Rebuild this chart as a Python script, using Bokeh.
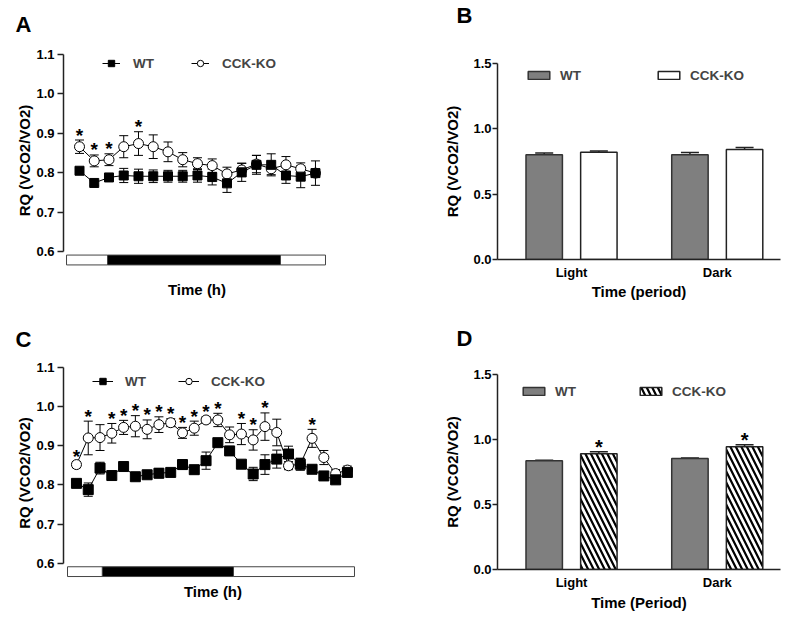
import numpy as np
from bokeh.plotting import figure
from bokeh.models import (Range1d, FixedTicker, PrintfTickFormatter, Whisker, TeeHead,
                          ColumnDataSource, Legend, LegendItem, Title)
from bokeh.layouts import row, column
from bokeh.embed import file_html
from bokeh.resources import INLINE
from bokeh.core.properties import value

FONT = "Liberation Sans"

# ---------------- data ----------------
# Panel A (hourly RQ, 17 time points)
hours_a = list(range(17))
wt_a = [0.805, 0.774, 0.788, 0.793, 0.791, 0.791, 0.791, 0.791, 0.793, 0.789,
        0.773, 0.801, 0.820, 0.820, 0.793, 0.790, 0.799]
wt_a_err = [0.006, 0.006, 0.008, 0.018, 0.018, 0.016, 0.015, 0.015, 0.017, 0.020,
            0.023, 0.023, 0.024, 0.028, 0.020, 0.028, 0.031]
ko_a = [0.866, 0.830, 0.833, 0.866, 0.874, 0.866, 0.853, 0.833, 0.823, 0.818,
        0.797, 0.807, 0.822, 0.810, 0.820, 0.810, 0.799]
ko_a_err = [0.017, 0.015, 0.015, 0.028, 0.030, 0.030, 0.025, 0.018, 0.015, 0.017,
            0.017, 0.017, 0.022, 0.015, 0.021, 0.015, 0.010]
stars_a = [0, 1, 2, 4]
# light / dark phases (in time-point units)
phase_a = [-0.88, 1.9, 13.63, 16.68]

# Panel C (hourly RQ, 24 time points)
hours_c = list(range(24))
wt_c = [0.804, 0.788, 0.843, 0.824, 0.847, 0.821, 0.826, 0.830, 0.832, 0.852,
        0.839, 0.862, 0.908, 0.887, 0.853, 0.828, 0.852, 0.866, 0.879, 0.853,
        0.840, 0.823, 0.813, 0.832]
wt_c_err = [0.006, 0.017, 0.015, 0.006, 0.006, 0.006, 0.008, 0.012, 0.008, 0.012,
            0.008, 0.022, 0.006, 0.006, 0.006, 0.017, 0.025, 0.023, 0.020, 0.015,
            0.006, 0.006, 0.010, 0.010]
ko_c = [0.852, 0.920, 0.921, 0.932, 0.947, 0.950, 0.942, 0.954, 0.959, 0.933,
        0.945, 0.966, 0.966, 0.928, 0.930, 0.915, 0.949, 0.934, 0.849, 0.853,
        0.919, 0.870, 0.829, 0.838]
ko_c_err = [0.008, 0.043, 0.033, 0.025, 0.018, 0.027, 0.024, 0.020, 0.010, 0.014,
            0.018, 0.008, 0.017, 0.020, 0.027, 0.026, 0.035, 0.034, 0.010, 0.015,
            0.023, 0.018, 0.010, 0.010]
stars_c = [0, 1, 3, 4, 5, 6, 7, 8, 9, 10, 11, 12, 14, 15, 16, 20]
phase_c = [-0.76, 2.2, 13.33, 23.6]

line_ticks = [0.6, 0.7, 0.8, 0.9, 1.0, 1.1]
bar_ticks = [0.0, 0.5, 1.0, 1.5]

# Panels B and D (period means)
periods = ["Light", "Dark"]
wt_b = [0.801, 0.801]
wt_b_err = [0.015, 0.018]
ko_b = [0.821, 0.842]
ko_b_err = [0.010, 0.015]

wt_d = [0.837, 0.853]
wt_d_err = [0.004, 0.004]
ko_d = [0.891, 0.945]
ko_d_err = [0.015, 0.015]
stars_d = [0, 1]


def base_fig(width, height, borders, xr, yr):
    l, t, r, b = borders
    p = figure(width=width, height=height, output_backend="svg", toolbar_location=None,
               x_range=Range1d(*xr), y_range=Range1d(*yr),
               min_border_left=l, min_border_top=t, min_border_right=r, min_border_bottom=b)
    p.frame_align = False
    p.outline_line_color = None
    p.xgrid.visible = False
    p.ygrid.visible = False
    p.background_fill_color = "white"
    return p


def style_yaxis(p, ticks, bounds, label_standoff, tick_standoff, tick_out):
    ax = p.yaxis[0]
    ax.ticker = FixedTicker(ticks=ticks)
    ax.formatter = PrintfTickFormatter(format="%.1f")
    ax.bounds = bounds
    ax.minor_tick_line_color = None
    ax.major_tick_out = tick_out
    ax.major_tick_in = 0
    ax.major_tick_line_width = 1.5
    ax.major_tick_line_color = "#222222"
    ax.axis_line_width = 1.5
    ax.axis_line_color = "#222222"
    ax.major_label_standoff = tick_standoff
    ax.major_label_text_font = FONT
    ax.major_label_text_font_style = "bold"
    ax.major_label_text_font_size = "13px"
    ax.major_label_text_color = "black"
    ax.axis_label = "RQ (VCO2/VO2)"
    ax.axis_label_text_font = FONT
    ax.axis_label_text_font_style = "bold"
    ax.axis_label_text_font_size = "15px"
    ax.axis_label_text_color = "black"
    ax.axis_label_standoff = label_standoff


def letter(p, text, offset, gap):
    # spacer between the frame and the panel letter
    p.add_layout(Title(text=" ", text_font_size="1px", standoff=gap), "above")
    p.title.text = text
    p.title.align = "left"
    p.title.offset = offset
    p.title.standoff = 0
    p.title.text_font = FONT
    p.title.text_font_style = "bold"
    p.title.text_font_size = "22px"
    p.title.text_color = "black"


def line_panel(width, height, borders, xr, yr, hours, wt, wt_err, ko, ko_err, stars,
               phase, leg_loc, leg_glyph_w, leg_standoff, leg_spacing, xlabel_standoff,
               let, let_offset, let_gap, sq_size):
    p = base_fig(width, height, borders, xr, yr)

    # light / dark bar
    p.quad(left=phase[:-1], right=phase[1:], top=0.591, bottom=0.566,
           fill_color=["white", "black", "white"], line_color="#444444", line_width=1)

    x = np.array(hours, dtype=float)
    wt = np.array(wt); wt_err = np.array(wt_err)
    ko = np.array(ko); ko_err = np.array(ko_err)

    src_wt = ColumnDataSource(dict(x=x, y=wt, lo=wt - wt_err, hi=wt + wt_err))
    src_ko = ColumnDataSource(dict(x=x, y=ko, lo=ko - ko_err, hi=ko + ko_err))

    for src in (src_ko, src_wt):
        p.add_layout(Whisker(base="x", lower="lo", upper="hi", source=src,
                             line_color="black", line_width=1,
                             upper_head=TeeHead(size=9, line_color="black", line_width=1),
                             lower_head=TeeHead(size=9, line_color="black", line_width=1)))

    l_ko = p.line("x", "y", source=src_ko, line_color="black", line_width=1)
    l_wt = p.line("x", "y", source=src_wt, line_color="black", line_width=1)
    s_ko = p.scatter("x", "y", source=src_ko, marker="circle", size=10,
                     fill_color="white", line_color="black", line_width=1)
    s_wt = p.scatter("x", "y", source=src_wt, marker="square", size=sq_size,
                     fill_color="black", line_color="black")

    st = np.array(stars)
    p.text(x=x[st], y=(ko + ko_err)[st], text=["*"] * len(st), text_font=value(FONT),
           text_font_style="bold", text_font_size="19px", text_align="center",
           text_baseline="alphabetic", text_color="black", y_offset=-5)

    leg = Legend(items=[LegendItem(label="WT", renderers=[l_wt, s_wt]),
                        LegendItem(label="CCK-KO", renderers=[l_ko, s_ko])],
                 orientation="horizontal", location=leg_loc, glyph_width=leg_glyph_w,
                 glyph_height=16, label_height=16, label_standoff=leg_standoff,
                 spacing=leg_spacing, padding=0, margin=0, border_line_color=None,
                 background_fill_alpha=0, label_text_font=FONT,
                 label_text_font_style="bold", label_text_font_size="13.5px")
    p.add_layout(leg)

    style_yaxis(p, line_ticks, (0.6, 1.1), 0, 3, 6)

    xa = p.xaxis[0]
    xa.ticker = FixedTicker(ticks=[])
    xa.axis_line_color = None
    xa.major_tick_line_color = None
    xa.minor_tick_line_color = None
    xa.major_tick_out = 0
    xa.major_tick_in = 0
    xa.major_label_standoff = 0
    xa.axis_label = "Time (h)"
    xa.axis_label_text_font = FONT
    xa.axis_label_text_font_style = "bold"
    xa.axis_label_text_font_size = "15px"
    xa.axis_label_text_color = "black"
    xa.axis_label_standoff = xlabel_standoff

    letter(p, let, let_offset, let_gap)
    return p


def bar_panel(width, height, borders, wt, wt_err, ko, ko_err, hatch, stars, xlabel,
              leg_loc, leg_spacing, xlabel_standoff, let, let_offset, let_gap):
    p = base_fig(width, height, borders, (0.492, 2.434), (0, 1.5))

    centers = np.arange(1, len(periods) + 1, dtype=float)
    wt = np.array(wt); wt_err = np.array(wt_err)
    ko = np.array(ko); ko_err = np.array(ko_err)
    src_wt = ColumnDataSource(dict(x=centers - 0.1875, top=wt, hi=wt + wt_err))
    src_ko = ColumnDataSource(dict(x=centers + 0.1875, top=ko, hi=ko + ko_err))

    for src in (src_wt, src_ko):
        p.add_layout(Whisker(base="x", lower="top", upper="hi", source=src,
                             line_color="#222222", line_width=1.5,
                             upper_head=TeeHead(size=18, line_color="#222222", line_width=1.5),
                             lower_head=None))

    r_wt = p.vbar(x="x", top="top", bottom=0, width=0.25, source=src_wt,
                  fill_color="#7f7f7f", line_color="#333333", line_width=1.5)
    ko_kw = dict(fill_color="white", line_color="#222222", line_width=1.5)
    if hatch:
        ko_kw.update(hatch_pattern="\\", hatch_color="black", hatch_weight=2.2,
                     hatch_scale=11)
    r_ko = p.vbar(x="x", top="top", bottom=0, width=0.25, source=src_ko, **ko_kw)

    if stars:
        st = np.array(stars)
        p.text(x=(centers + 0.1875)[st], y=(ko + ko_err)[st], text=["*"] * len(st),
               text_font=value(FONT), text_font_style="bold", text_font_size="20px",
               text_align="center", text_baseline="alphabetic", text_color="black",
               y_offset=-5)

    leg = Legend(items=[LegendItem(label="WT", renderers=[r_wt]),
                        LegendItem(label="CCK-KO", renderers=[r_ko])],
                 orientation="horizontal", location=leg_loc, glyph_width=27,
                 glyph_height=10, label_height=16, label_standoff=8,
                 spacing=leg_spacing, padding=0, margin=0, border_line_color=None,
                 background_fill_alpha=0, label_text_font=FONT,
                 label_text_font_style="bold", label_text_font_size="13.5px")
    p.add_layout(leg)

    style_yaxis(p, bar_ticks, (0, 1.5), 9, 1, 5)

    xa = p.xaxis[0]
    xa.ticker = FixedTicker(ticks=list(centers))
    xa.major_label_overrides = {float(c): name for c, name in zip(centers, periods)}
    xa.axis_line_width = 1.5
    xa.axis_line_color = "#222222"
    xa.major_tick_line_color = None
    xa.minor_tick_line_color = None
    xa.major_tick_out = 0
    xa.major_tick_in = 0
    xa.major_label_standoff = 5
    xa.major_label_text_font = FONT
    xa.major_label_text_font_style = "bold"
    xa.major_label_text_font_size = "13px"
    xa.major_label_text_color = "black"
    xa.axis_label = xlabel
    xa.axis_label_text_font = FONT
    xa.axis_label_text_font_style = "bold"
    xa.axis_label_text_font_size = "15px"
    xa.axis_label_text_color = "black"
    xa.axis_label_standoff = xlabel_standoff

    letter(p, let, let_offset, let_gap)
    return p


pA = line_panel(400, 310, (63, 54, 70, 44), (-1.085, 17.02), (0.562, 1.1),
                hours_a, wt_a, wt_a_err, ko_a, ko_a_err, stars_a, phase_a,
                (39, 195), 18, 13, 37, 14, "A", -48, 15, 9)
pC = line_panel(400, 306, (63, 57, 38, 38), (-1.10, 24.28), (0.561, 1.1),
                hours_c, wt_c, wt_c_err, ko_c, ko_c_err, stars_c, phase_c,
                (29, 189), 21, 12, 32, 4, "C", -48, 13, 10)
pB = bar_panel(400, 310, (97, 63, 20, 51), wt_b, wt_b_err, ko_b, ko_b_err, False, None,
               "Time (period)", (28, 176), 74, 0, "B", -41, 33)
pD = bar_panel(400, 306, (97, 64, 20, 47), wt_d, wt_d_err, ko_d, ko_d_err, True, stars_d,
               "Time (Period)", (23, 170), 61, 1, "D", -41, 21)

layout = column(row(pA, pB), row(pC, pD))
open("out.html", "w").write(file_html(layout, INLINE))
